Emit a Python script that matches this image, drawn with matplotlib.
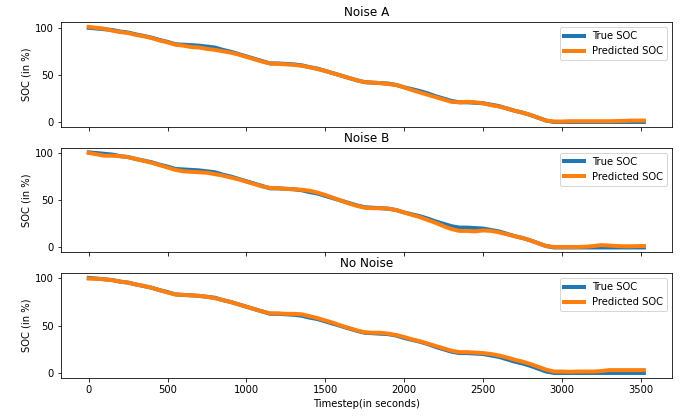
import numpy as np
import matplotlib.pyplot as plt

# Timesteps (seconds) and state-of-charge values, read every 50 s
timestep = list(range(0, 3550, 50)) + [3520]

true_soc = [
    100.5, 99.8, 99.0, 98.2, 96.5, 95.5, 93.5, 91.8, 90.0, 87.5,
    85.5, 83.0, 82.5, 82.0, 81.5, 80.5, 79.5, 77.0, 75.0, 72.5,
    70.0, 67.5, 65.0, 62.5, 62.5, 62.0, 61.5, 60.5, 58.5, 57.0,
    54.5, 52.0, 49.5, 47.0, 44.5, 42.5, 42.0, 41.5, 41.0, 39.5,
    37.0, 35.0, 33.0, 30.5, 27.5, 25.0, 22.5, 21.0, 21.0, 20.5,
    20.0, 18.5, 17.0, 14.5, 12.0, 10.0, 7.5, 4.5, 1.5, 0.0,
    0.0, 0.0, 0.0, 0.0, 0.0, 0.0, 0.0, 0.0, 0.0, 0.0,
    0.0, 0.0,
]

pred_noise_a = [
    101.5, 100.5, 99.5, 97.5, 96.0, 95.0, 93.0, 91.5, 89.5, 87.0,
    85.0, 82.5, 81.5, 80.0, 79.5, 78.0, 77.0, 75.5, 74.0, 72.0,
    69.5, 67.0, 64.5, 62.5, 62.0, 61.5, 61.0, 60.0, 58.5, 56.5,
    54.5, 52.0, 49.5, 47.0, 44.5, 42.5, 42.0, 41.5, 40.5, 39.5,
    37.0, 34.0, 31.5, 29.0, 26.5, 24.0, 21.5, 21.0, 21.5, 21.0,
    20.0, 18.0, 16.5, 14.5, 12.0, 10.0, 7.5, 4.5, 1.5, 0.5,
    0.5, 0.8, 0.8, 0.8, 0.8, 0.8, 0.8, 1.0, 1.2, 1.5,
    1.5, 1.5,
]

pred_noise_b = [
    100.0, 98.5, 97.0, 97.0, 96.5, 95.5, 93.5, 91.5, 89.5, 87.0,
    84.5, 82.0, 80.5, 80.0, 79.5, 79.0, 77.5, 76.0, 74.0, 72.0,
    69.5, 67.0, 64.5, 63.0, 62.5, 62.0, 61.5, 61.0, 60.0, 58.0,
    55.5, 52.5, 49.5, 46.5, 44.0, 42.0, 41.5, 41.5, 41.0, 39.5,
    37.0, 34.5, 32.0, 29.0, 26.0, 22.5, 19.5, 17.5, 17.5, 17.0,
    18.0, 17.5, 16.0, 14.0, 12.0, 10.0, 7.5, 4.5, 1.5, 0.5,
    0.5, 0.5, 0.5, 0.8, 1.5, 2.5, 2.0, 1.5, 1.2, 1.3,
    1.5, 1.5,
]

pred_no_noise = [
    99.8, 99.5, 99.0, 98.0, 96.5, 95.5, 93.5, 92.0, 90.0, 87.5,
    85.0, 83.0, 82.5, 82.0, 81.5, 80.5, 79.0, 77.0, 75.0, 72.5,
    70.0, 67.5, 65.0, 63.0, 63.0, 62.5, 62.5, 62.0, 60.0, 58.0,
    55.5, 53.0, 50.0, 47.5, 45.0, 43.0, 42.5, 42.5, 41.5, 40.0,
    38.0, 35.5, 33.5, 31.0, 28.5, 26.0, 23.5, 22.0, 22.0, 21.5,
    21.0, 20.0, 18.5, 16.5, 14.0, 12.0, 9.5, 6.5, 3.5, 1.5,
    1.5, 1.2, 1.5, 1.5, 1.5, 2.0, 3.0, 3.0, 3.0, 3.0,
    3.0, 3.0,
]

titles = ['Noise A', 'Noise B', 'No Noise']
predictions = [pred_noise_a, pred_noise_b, pred_no_noise]

fig, axes = plt.subplots(3, 1, figsize=(683 / 72, 418 / 72), dpi=72, sharex=True)
fig.subplots_adjust(left=0.0893, right=0.9834, top=0.947, bottom=0.0964, hspace=0.2)

for ax, title, pred in zip(axes, titles, predictions):
    ax.plot(timestep, true_soc, color='tab:blue', linewidth=4, label='True SOC')
    ax.plot(timestep, pred, color='tab:orange', linewidth=4, label='Predicted SOC')
    ax.set_title(title)
    ax.set_ylabel('SOC (in %)')
    ax.set_yticks([0, 50, 100])
    ax.legend(loc='upper right')

axes[-1].set_xlabel('Timestep(in seconds)')
axes[-1].set_xticks(np.arange(0, 3501, 500))

fig.savefig('out.png', dpi=72)
